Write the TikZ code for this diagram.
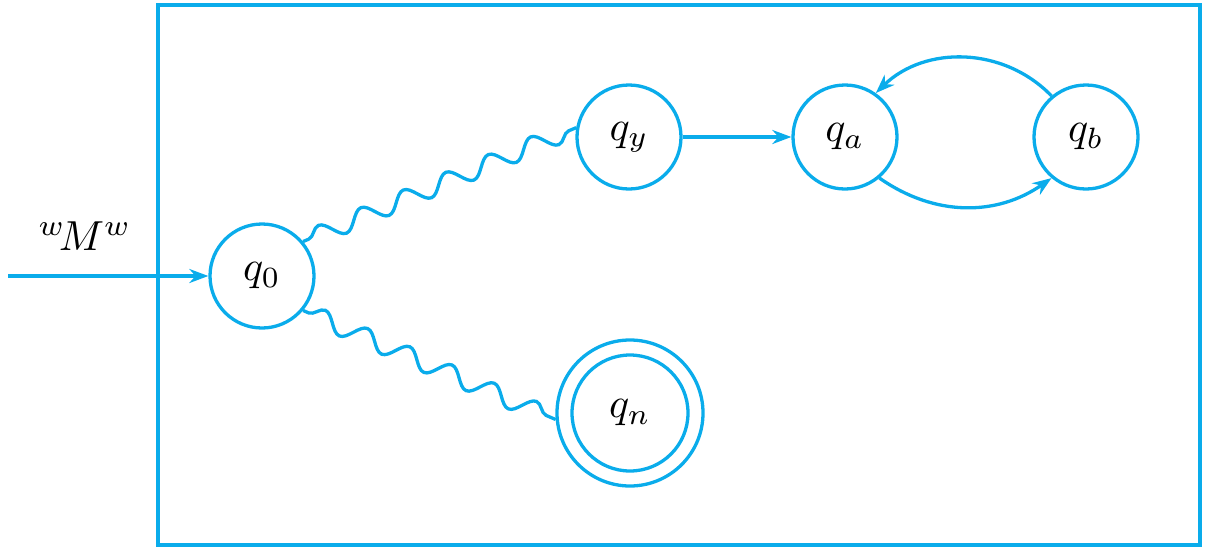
\documentclass[tikz,border=0pt]{standalone}
\usetikzlibrary{arrows.meta,decorations.pathmorphing}
\definecolor{cy}{RGB}{10,172,235}
\newcommand{\bigtxt}[1]{\scalebox{4.2}{$#1$}}
\begin{document}
\begin{tikzpicture}[x=1pt,y=-1pt,
  state/.style={circle,draw=cy,line width=3.3pt,minimum size=104pt,inner sep=0pt},
  conn/.style={draw=cy,line width=3.3pt,-{Stealth[length=19pt,width=14pt]}},
  wavy/.style={draw=cy,line width=3.3pt,decorate,
    decoration={snake,segment length=46pt,amplitude=9pt,pre length=6pt,post length=6pt}}]
\useasboundingbox (0,0) rectangle (1206,550);
\draw[cy,line width=3.3pt] (158,5) rectangle (1200,545);
\node[state] (q0) at (262,276) {\bigtxt{q_0}};
\node[state] (qy) at (629,137) {\bigtxt{q_y}};
\node[state] (qa) at (845,137) {\bigtxt{q_a}};
\node[state] (qb) at (1086,137) {\bigtxt{q_b}};
\node[state,minimum size=116pt] (qn) at (630,413) {\bigtxt{q_n}};
\node[circle,draw=cy,line width=3.3pt,minimum size=146pt] (qno) at (630,413) {};
\coordinate (in) at (8,276);
\node (lab) at (85,236) {\bigtxt{{}^{w}\!M^{w}}};
\draw[conn] (in) -- (q0);
\draw[conn] (qy) -- (qa);
\draw[conn] (qa.-50) to[bend right=35] (qb.-130);
\draw[conn] (qb.130) to[bend right=45] (qa.55);
\path[wavy] (q0.40) -- (qy.170);
\path[wavy] (q0.-40) -- (qno.185);
\end{tikzpicture}
\end{document}
